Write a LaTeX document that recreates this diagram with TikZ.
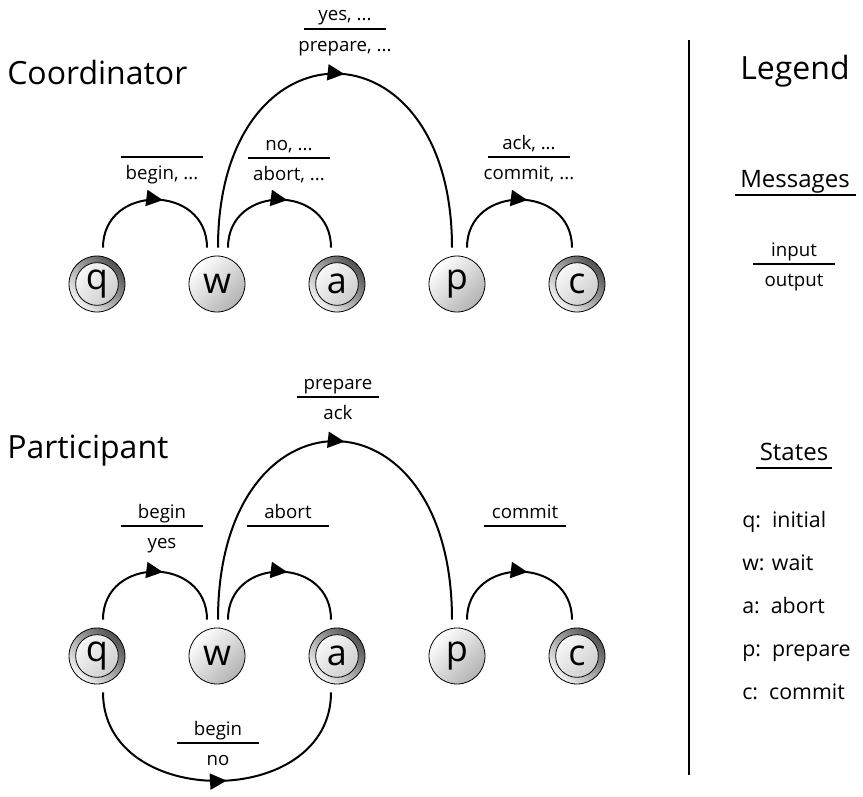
\documentclass[tikz,border=0pt]{standalone}
\usepackage{fontspec}
\setmainfont{Open Sans}
\usetikzlibrary{arrows.meta,decorations.markings,calc}
\newcommand\statefont{\fontsize{27pt}{27pt}\selectfont}
\newcommand\lblfont{\fontsize{14pt}{16pt}\selectfont}
\newcommand\titlefont{\fontsize{24pt}{28pt}\selectfont}
\newcommand\headfont{\fontsize{18pt}{21pt}\selectfont}
\newcommand\legfont{\fontsize{16pt}{19pt}\selectfont}
\newcommand\msglabel[4]{%
  \coordinate (#1) at #2;
  \draw[bar] ($(#1)+(-41,0)$) -- ($(#1)+(41,0)$);
  \node[lbl] (#1t) at ($(#1)+(0,-8)$) {#3};
  \node[lbl] (#1b) at ($(#1)+(0,22)$) {#4};}
\begin{document}
\begin{tikzpicture}[x=0.75pt,y=-0.75pt,
  trans/.style={line width=1.5pt, postaction={decorate},
    decoration={markings, mark=at position #1 with {\arrow{Triangle[length=12.5pt,width=12pt]}}}},
  trans/.default=0.55,
  st/.style={circle, draw=black, line width=0.6pt, minimum size=42pt, inner sep=0pt,
    font=\statefont, top color=white, middle color=white, bottom color=black!30, shading angle=45},
  acc/.style={circle, draw=black, line width=0.6pt, minimum size=42pt, inner sep=0pt,
    font=\statefont, top color=black!68, middle color=black!35, bottom color=black!4, shading angle=-45,
    path picture={\draw[line width=0.6pt, top color=white, middle color=white, bottom color=black!22, shading angle=45]
      (path picture bounding box.center) circle (16pt);}},
  lbl/.style={font=\lblfont, anchor=base, inner sep=0pt},
  bar/.style={line width=1.1pt},
  title/.style={font=\titlefont, anchor=base west, inner sep=0pt},
  leg/.style={font=\legfont, anchor=base west, inner sep=0pt},
]
\useasboundingbox (0,0) rectangle (863,796);

% titles
\node[title] (coord) at (7,84) {Coordinator};
\node[title] (part) at (7,458) {Participant};

% coordinator states
\node[acc] (q1) at (97,284) {q};
\node[st]  (w1) at (217,284) {w};
\node[acc] (a1) at (337,284) {a};
\node[st]  (p1) at (457,284) {p};
\node[acc] (c1) at (577,284) {c};

\draw[trans] ($(q1.north)+(6,-8)$) .. controls +(0,-64) and +(0,-64) .. ($(w1.north)+(-10,-8)$);
\draw[trans] ($(w1.north)+(11,-8)$) .. controls +(0,-64) and +(0,-64) .. ($(a1.north)+(-6,-8)$);
\draw[trans=0.52] ($(w1.north)+(1,-8)$) .. controls +(0,-232) and +(0,-232) .. ($(p1.north)+(-5,-8)$);
\draw[trans] ($(p1.north)+(10,-8)$) .. controls +(0,-64) and +(0,-64) .. ($(c1.north)+(-5,-8)$);

\msglabel{m1}{(162,157)}{}{begin, ...}
\msglabel{m2}{(289,158)}{no, ...}{abort, ...}
\msglabel{m3}{(345,29)}{yes, ...}{prepare, ...}
\msglabel{m4}{(529,157)}{ack, ...}{commit, ...}

% participant states
\node[acc] (q2) at (97,656) {q};
\node[st]  (w2) at (217,656) {w};
\node[acc] (a2) at (337,656) {a};
\node[st]  (p2) at (457,656) {p};
\node[acc] (c2) at (577,656) {c};

\draw[trans] ($(q2.north)+(6,-8)$) .. controls +(0,-64) and +(0,-64) .. ($(w2.north)+(-10,-8)$);
\draw[trans] ($(w2.north)+(11,-8)$) .. controls +(0,-64) and +(0,-64) .. ($(a2.north)+(-6,-8)$);
\draw[trans=0.52] ($(w2.north)+(1,-8)$) .. controls +(0,-238) and +(0,-238) .. ($(p2.north)+(-5,-8)$);
\draw[trans] ($(p2.north)+(10,-8)$) .. controls +(0,-64) and +(0,-64) .. ($(c2.north)+(-5,-8)$);
\draw[trans=0.53] ($(q2.south)+(6,8)$) .. controls +(0,118) and +(0,118) .. ($(a2.south)+(-6,8)$);

\msglabel{n1}{(162,526)}{begin}{yes}
\msglabel{n2}{(288,526)}{abort}{}
\msglabel{n3}{(338,397)}{prepare}{ack}
\msglabel{n4}{(525,526)}{commit}{}
\msglabel{n5}{(218,743)}{begin}{no}

% legend
\coordinate (vt) at (689,40);
\coordinate (vb) at (689,775);
\draw[line width=1.5pt] (vt) -- (vb);
\node[font=\titlefont, anchor=base, inner sep=0pt] (legend) at (795,79) {Legend};
\node[font=\headfont, anchor=base, inner sep=0pt] (msgs) at (795,187) {Messages};
\draw[bar] (735,195) -- (856,195);
\msglabel{lm}{(794,264)}{input}{output}
\node[font=\headfont, anchor=base, inner sep=0pt] (sts) at (794,460) {States};
\draw[bar] (756,468) -- (832,468);
\node[leg] (sq) at (742,527) {q:\ \ initial};
\node[leg] (sw) at (742,570) {w: wait};
\node[leg] (sa) at (742,613) {a:\ \ abort};
\node[leg] (sp) at (742,656) {p:\ \ prepare};
\node[leg] (sc) at (742,699) {c:\ \ commit};
\end{tikzpicture}
\end{document}
